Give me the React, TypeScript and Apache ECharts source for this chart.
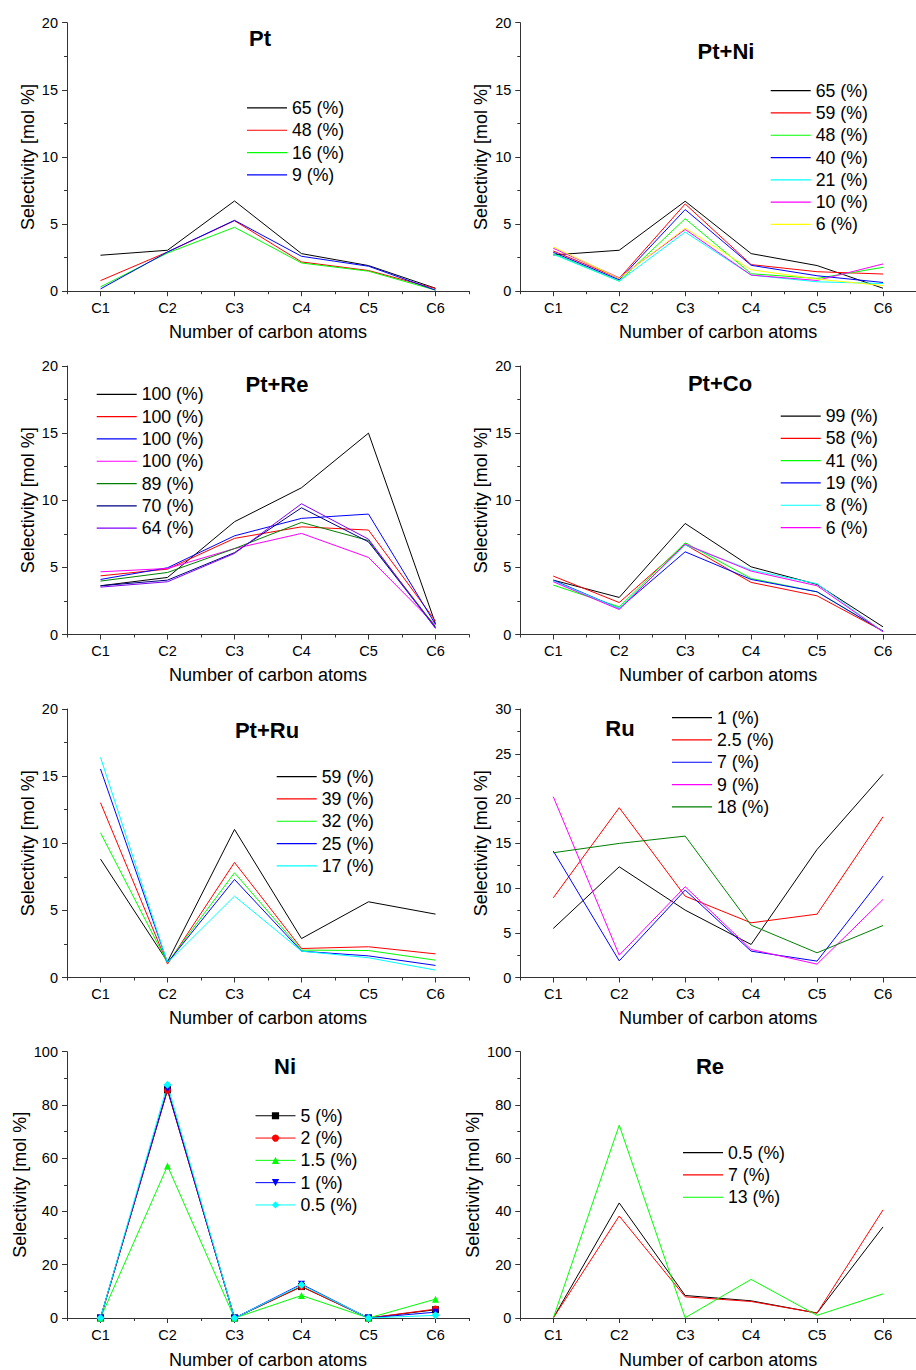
import React, { useEffect, useRef } from 'react';
import * as echarts from 'echarts';

// ---------- data ----------
const CATEGORIES = ['C1', 'C2', 'C3', 'C4', 'C5', 'C6'];

// Pt
const PT_NAMES = ['65 (%)', '48 (%)', '16 (%)', '9 (%)'];
const PT_65 = [2.68, 3.05, 6.72, 2.8, 1.91, 0.22];
const PT_48 = [0.79, 2.92, 5.25, 2.18, 1.54, 0.2];
const PT_16 = [0.32, 2.85, 4.76, 2.1, 1.49, 0.08];
const PT_9 = [0.17, 2.92, 5.28, 2.6, 1.86, 0.08];

// Pt+Ni
const PTNI_NAMES = ['65 (%)', '59 (%)', '48 (%)', '40 (%)', '21 (%)', '10 (%)', '6 (%)'];
const PTNI_65 = [2.7, 3.05, 6.7, 2.8, 1.91, 0.22];
const PTNI_59 = [3.0, 0.95, 6.5, 1.98, 1.45, 1.28];
const PTNI_48 = [2.8, 0.75, 5.4, 1.3, 0.95, 1.78];
const PTNI_40 = [2.9, 0.85, 6.08, 1.93, 1.15, 0.65];
const PTNI_21 = [2.75, 0.75, 4.4, 1.2, 0.7, 0.57];
const PTNI_10 = [3.2, 1.0, 4.6, 1.2, 0.8, 2.03];
const PTNI_6 = [3.3, 0.95, 4.7, 1.6, 0.9, 0.42];

// Pt+Re
const PTRE_NAMES = ['100 (%)', '100 (%)', '100 (%)', '100 (%)', '89 (%)', '70 (%)', '64 (%)'];
const PTRE_100A = [3.63, 4.25, 8.4, 10.93, 15.0, 0.8];
const PTRE_100B = [4.37, 4.87, 7.16, 8.02, 7.78, 1.0];
const PTRE_100C = [4.1, 4.97, 7.35, 8.65, 8.97, 0.75];
const PTRE_100D = [4.67, 4.92, 6.4, 7.53, 5.74, 0.7];
const PTRE_89 = [3.98, 4.62, 6.4, 8.35, 7.0, 0.57];
const PTRE_70 = [3.63, 4.05, 6.1, 9.44, 6.9, 0.5];
const PTRE_64 = [3.53, 3.93, 6.04, 9.74, 7.1, 0.45];

// Pt+Co
const PTCO_NAMES = ['99 (%)', '58 (%)', '41 (%)', '19 (%)', '8 (%)', '6 (%)'];
const PTCO_99 = [4.05, 2.76, 8.27, 5.04, 3.73, 0.57];
const PTCO_58 = [4.35, 2.38, 6.7, 3.88, 2.88, 0.25];
const PTCO_41 = [3.68, 2.06, 6.83, 4.17, 3.18, 0.25];
const PTCO_19 = [4.05, 1.94, 6.16, 4.1, 3.18, 0.25];
const PTCO_8 = [4.0, 1.94, 6.66, 4.8, 3.78, 0.2];
const PTCO_6 = [3.93, 1.86, 6.73, 4.72, 3.63, 0.2];

// Pt+Ru
const PTRU_NAMES = ['59 (%)', '39 (%)', '32 (%)', '25 (%)', '17 (%)'];
const PTRU_59 = [8.82, 1.17, 11.03, 2.9, 5.64, 4.72];
const PTRU_39 = [13.02, 1.0, 8.57, 2.16, 2.29, 1.76];
const PTRU_32 = [10.78, 1.1, 7.8, 2.04, 2.01, 1.29];
const PTRU_25 = [15.53, 1.1, 7.3, 1.96, 1.61, 0.9];
const PTRU_17 = [16.4, 1.1, 6.06, 1.96, 1.47, 0.55];

// Ru
const RU_NAMES = ['1 (%)', '2.5 (%)', '7 (%)', '9 (%)', '18 (%)'];
const RU_1 = [5.48, 12.37, 7.53, 3.69, 14.31, 22.7];
const RU_25 = [8.9, 18.97, 9.09, 6.11, 7.08, 17.96];
const RU_7 = [14.13, 1.86, 9.77, 2.94, 1.83, 11.33];
const RU_9 = [20.2, 2.5, 10.14, 3.13, 1.49, 8.72];
const RU_18 = [13.94, 14.98, 15.8, 5.85, 2.76, 5.81];

// Ni
const NI_NAMES = ['5 (%)', '2 (%)', '1.5 (%)', '1 (%)', '0.5 (%)'];
const NI_5 = [0, 85.7, 0, 11.8, 0, 3.1];
const NI_2 = [0, 85.5, 0, 11.8, 0, 3.35];
const NI_15 = [0, 57.1, 0, 8.45, 0, 7.08];
const NI_1 = [0, 86.0, 0, 12.7, 0, 2.2];
const NI_05 = [0, 87.6, 0, 12.4, 0, 1.0];

// Re
const RE_NAMES = ['0.5 (%)', '7 (%)', '13 (%)'];
const RE_05 = [0, 43.2, 8.45, 6.46, 1.86, 34.2];
const RE_7 = [0, 38.3, 7.95, 6.2, 1.86, 40.6];
const RE_13 = [0, 72.4, 0.1, 14.5, 1.0, 9.07];

// ---------- styling ----------
const FONT = '"Liberation Sans", Arial, Helvetica, sans-serif';
const AXIS = '#333333';
const BLACK = '#000000', RED = '#ff0000', GREEN = '#00ff00', BLUE = '#0000ff', CYAN = '#00ffff',
  MAGENTA = '#ff00ff', YELLOW = '#ffff00', DKGREEN = '#008000', NAVY = '#000080', PURPLE = '#8000ff';

type Panel = {
  title: string;
  names: string[];
  data: number[][];
  colors: string[];
  ymax: number;
  yInterval: number;
  col: number;
  row: number;
  legendLeft: number;
  legendTop: number;
  titleX: number;
  titleY: number;
  symbols?: string[];
  rotates?: number[];
};

const PANELS: Panel[] = [
  { title: 'Pt', names: PT_NAMES, data: [PT_65, PT_48, PT_16, PT_9], colors: [BLACK, RED, GREEN, BLUE],
    ymax: 20, yInterval: 5, col: 0, row: 0, legendLeft: 247, legendTop: 96.8, titleX: 260, titleY: 38 },
  { title: 'Pt+Ni', names: PTNI_NAMES, data: [PTNI_65, PTNI_59, PTNI_48, PTNI_40, PTNI_21, PTNI_10, PTNI_6],
    colors: [BLACK, RED, GREEN, BLUE, CYAN, MAGENTA, YELLOW],
    ymax: 20, yInterval: 5, col: 1, row: 0, legendLeft: 770.7, legendTop: 79.5, titleX: 726, titleY: 51 },
  { title: 'Pt+Re', names: PTRE_NAMES, data: [PTRE_100A, PTRE_100B, PTRE_100C, PTRE_100D, PTRE_89, PTRE_70, PTRE_64],
    colors: [BLACK, RED, BLUE, MAGENTA, DKGREEN, NAVY, PURPLE],
    ymax: 20, yInterval: 5, col: 0, row: 1, legendLeft: 96.7, legendTop: 383.2, titleX: 277, titleY: 384 },
  { title: 'Pt+Co', names: PTCO_NAMES, data: [PTCO_99, PTCO_58, PTCO_41, PTCO_19, PTCO_8, PTCO_6],
    colors: [BLACK, RED, GREEN, BLUE, CYAN, MAGENTA],
    ymax: 20, yInterval: 5, col: 1, row: 1, legendLeft: 780.7, legendTop: 404.9, titleX: 720, titleY: 383 },
  { title: 'Pt+Ru', names: PTRU_NAMES, data: [PTRU_59, PTRU_39, PTRU_32, PTRU_25, PTRU_17],
    colors: [BLACK, RED, GREEN, BLUE, CYAN],
    ymax: 20, yInterval: 5, col: 0, row: 2, legendLeft: 276.7, legendTop: 765.5, titleX: 267, titleY: 730 },
  { title: 'Ru', names: RU_NAMES, data: [RU_1, RU_25, RU_7, RU_9, RU_18],
    colors: [BLACK, RED, BLUE, MAGENTA, DKGREEN],
    ymax: 30, yInterval: 5, col: 1, row: 2, legendLeft: 672, legendTop: 706.5, titleX: 620, titleY: 728 },
  { title: 'Ni', names: NI_NAMES, data: [NI_5, NI_2, NI_15, NI_1, NI_05],
    colors: [BLACK, RED, GREEN, BLUE, CYAN],
    ymax: 100, yInterval: 20, col: 0, row: 3, legendLeft: 255, legendTop: 1104.6, titleX: 285, titleY: 1066,
    symbols: ['rect', 'circle', 'triangle', 'triangle', 'diamond'], rotates: [0, 0, 0, 180, 0] },
  { title: 'Re', names: RE_NAMES, data: [RE_05, RE_7, RE_13], colors: [BLACK, RED, GREEN],
    ymax: 100, yInterval: 20, col: 1, row: 3, legendLeft: 683, legendTop: 1141.5, titleX: 710, titleY: 1066 },
];

const LEFTS = [67, 520.3];
const TOPS = [22.7, 366, 709, 1051.7];
const GRID_W = 402;
const GRID_H = 268.5;

function buildOption() {
  const grid: any[] = [];
  const xAxis: any[] = [];
  const yAxis: any[] = [];
  const legend: any[] = [];
  const series: any[] = [];
  const graphic: any[] = [];

  PANELS.forEach((p, i) => {
    grid.push({ left: LEFTS[p.col], top: TOPS[p.row], width: GRID_W, height: GRID_H, containLabel: false });
    const axisLine = { show: true, onZero: false, lineStyle: { color: AXIS, width: 1 } };
    // minor ticks at band boundaries
    xAxis.push({
      type: 'category', gridIndex: i, data: CATEGORIES, position: 'bottom', boundaryGap: true,
      axisLine, axisTick: { show: true, interval: 0, length: 3, lineStyle: { color: AXIS } },
      axisLabel: { show: false }, splitLine: { show: false }, silent: true,
    });
    // major ticks + labels at categories
    xAxis.push({
      type: 'category', gridIndex: i, data: CATEGORIES, position: 'bottom', boundaryGap: true,
      axisLine, axisTick: { show: true, interval: 0, alignWithLabel: true, length: 5, lineStyle: { color: AXIS } },
      axisLabel: { interval: 0, fontSize: 14.5, color: '#000', margin: 9, fontFamily: FONT },
      splitLine: { show: false },
      name: 'Number of carbon atoms', nameLocation: 'middle', nameGap: p.row === 3 ? 33 : 31.5,
      nameTextStyle: { fontSize: 18, color: '#000', fontFamily: FONT },
    });
    yAxis.push({
      type: 'value', gridIndex: i, min: 0, max: p.ymax, interval: p.yInterval,
      axisLine, axisTick: { show: true, length: 5, lineStyle: { color: AXIS } },
      minorTick: { show: true, splitNumber: 2, length: 3, lineStyle: { color: AXIS } },
      splitLine: { show: false }, minorSplitLine: { show: false },
      axisLabel: { fontSize: 14.5, color: '#000', margin: 9, fontFamily: FONT },
      name: 'Selectivity [mol %]', nameLocation: 'middle', nameGap: p.ymax === 100 ? 38.5 : 30.5,
      nameTextStyle: { fontSize: 18, color: '#000', fontFamily: FONT },
    });

    const legendNames: string[] = [];
    p.data.forEach((vals, k) => {
      const uname = `${p.names[k]}#${i}-${k}`;
      legendNames.push(uname);
      const sym = p.symbols ? p.symbols[k] : 'none';
      series.push({
        type: 'line', name: uname, xAxisIndex: 2 * i + 1, yAxisIndex: i,
        data: vals, color: p.colors[k],
        symbol: sym, symbolSize: sym === 'diamond' ? 8 : 7,
        symbolRotate: p.rotates ? p.rotates[k] : 0,
        showSymbol: sym !== 'none',
        lineStyle: { color: p.colors[k], width: 1 },
        itemStyle: { color: p.colors[k] },
        emphasis: { disabled: true }, silent: true,
      });
    });

    const lg: any = {
      orient: 'vertical', left: p.legendLeft, top: p.legendTop, padding: 0, itemGap: 0,
      itemWidth: 40, selectedMode: false, data: legendNames,
      formatter: (name: string) => name.split('#')[0],
      textStyle: { fontSize: 17.7, color: '#000', fontFamily: FONT, lineHeight: 22.3 },
    };
    if (p.symbols) {
      lg.itemHeight = 9;
      lg.lineStyle = { width: 1 };
    } else {
      lg.icon = 'rect';
      lg.itemHeight = 1.2;
    }
    legend.push(lg);

    graphic.push({
      type: 'text', x: p.titleX, y: p.titleY, silent: true,
      style: { text: p.title, fill: '#000', font: `bold 22px ${FONT}`, align: 'center', verticalAlign: 'middle' },
    });
  });

  return {
    animation: false,
    backgroundColor: '#ffffff',
    textStyle: { fontFamily: FONT },
    grid, xAxis, yAxis, legend, series, graphic,
  };
}

export default function App() {
  const ref = useRef<HTMLDivElement>(null);
  useEffect(() => {
    if (!ref.current) return;
    const chart = echarts.init(ref.current, undefined, { renderer: 'svg' });
    chart.setOption(buildOption() as any);
    return () => chart.dispose();
  }, []);
  return (
    <div
      ref={ref}
      style={{ position: 'absolute', left: 0, top: 0, width: 916, height: 1370, background: '#fff' }}
    />
  );
}
